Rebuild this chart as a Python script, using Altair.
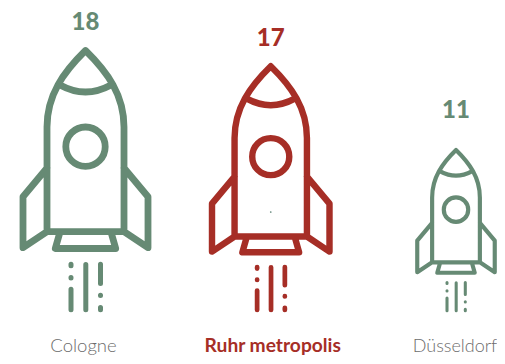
import altair as alt
import pandas as pd

cities = ["Cologne", "Ruhr metropolis", "Düsseldorf"]
values = [18, 17, 11]

GREEN = "#668a74"
RED = "#a62e26"
GREY = "#6c6c6c"


def P(x, y):
    """Icon point: px of the largest rocket, relative to its centre / bottom."""
    return f"{x / 100:.4f} {(y - 312.3) / 100:.4f}"


def circle(cy, r):
    k = r * 0.5523
    return (
        f"M{P(-r, cy)}C{P(-r, cy - k)} {P(-k, cy - r)} {P(0, cy - r)}"
        f"C{P(k, cy - r)} {P(r, cy - k)} {P(r, cy)}"
        f"C{P(r, cy + k)} {P(k, cy + r)} {P(0, cy + r)}"
        f"C{P(-k, cy + r)} {P(-r, cy + k)} {P(-r, cy)}Z"
    )


ROCKET = (
    f"M{P(-38.5, 231.7)}L{P(-38.5, 127)}"
    f"C{P(-38.5, 95)} {P(-22, 72)} {P(0, 50.5)}"
    f"C{P(22, 72)} {P(38.5, 95)} {P(38.5, 127)}"
    f"L{P(38.5, 231.7)}Z"
    f"M{P(-25.5, 85)}Q{P(0, 99)} {P(25.5, 85)}"
    + circle(146.7, 19.7)
    + f"M{P(-38.5, 168)}L{P(-62.5, 196.7)}L{P(-62.5, 247.7)}L{P(-38.5, 231.7)}"
    f"M{P(38.5, 168)}L{P(62.5, 196.7)}L{P(62.5, 247.7)}L{P(38.5, 231.7)}"
    f"M{P(-25.5, 232)}L{P(-30.2, 248.5)}L{P(30.2, 248.5)}L{P(25.5, 232)}"
)

EXHAUST = (
    f"M{P(-14.5, 264.2)}L{P(-14.5, 265.8)}"
    f"M{P(-14.5, 277.6)}L{P(-14.5, 277.9)}"
    f"M{P(-14.5, 289.2)}L{P(-14.5, 309.8)}"
    f"M{P(0.3, 264.5)}L{P(0.3, 309.8)}"
    f"M{P(15, 264.2)}L{P(15, 283.5)}"
    f"M{P(15, 295.2)}L{P(15, 295.5)}"
    f"M{P(15, 307.5)}L{P(15, 309.8)}"
)

df = pd.DataFrame({"city": cities, "value": values})

x = alt.X(
    "city:N",
    sort=cities,
    title=None,
    axis=None,
    scale=alt.Scale(type="point", domain=cities, range=[77.5, 448], padding=0),
)
color = alt.Color(
    "city:N", legend=None, scale=alt.Scale(domain=cities, range=[GREEN, RED, GREEN])
)
size = alt.Size(
    "value:Q",
    legend=None,
    scale=alt.Scale(type="pow", exponent=1, domain=[11, 17, 18], range=[15376, 35344, 40000]),
)


def sw(top):
    return alt.StrokeWidth(
        "value:Q", legend=None, scale=alt.Scale(domain=[0, 18], range=[0, top])
    )


BASE = alt.value(304.3)

body = (
    alt.Chart(df)
    .mark_point(shape=ROCKET, filled=False, opacity=1, strokeJoin="round", strokeCap="round")
    .encode(x=x, y=BASE, color=color, size=size, strokeWidth=sw(6.8))
)
flame = (
    alt.Chart(df)
    .mark_point(shape=EXHAUST, filled=False, opacity=1, strokeCap="round", strokeJoin="round")
    .encode(x=x, y=BASE, color=color, size=size, strokeWidth=sw(5))
)
labels = (
    alt.Chart(df)
    .mark_text(font="Lato", fontWeight=900, fontSize=24, baseline="middle")
    .encode(
        x=x,
        y=alt.Y(
            "value:Q",
            axis=None,
            title=None,
            scale=alt.Scale(domain=[11, 17, 18], range=[103, 31, 15]),
        ),
        color=color,
        text="value:Q",
    )
)
name_a = (
    alt.Chart(df[df.city == "Cologne"])
    .mark_text(font="Lato", fontWeight=300, fontSize=18.5, baseline="alphabetic", color=GREY, dx=-2)
    .encode(x=x, y=alt.value(344), text="city:N")
)
name_c = (
    alt.Chart(df[df.city == "Düsseldorf"])
    .mark_text(font="Lato", fontWeight=300, fontSize=18, baseline="alphabetic", color=GREY, dx=-1)
    .encode(x=x, y=alt.value(344), text="city:N")
)
name_b = (
    alt.Chart(df[df.city == "Ruhr metropolis"])
    .mark_text(font="Lato", fontWeight="bold", fontSize=19.2, baseline="alphabetic", color=RED, dx=2)
    .encode(x=x, y=alt.value(344), text="city:N")
)
speck = (
    alt.Chart(df[df.city == "Ruhr metropolis"])
    .mark_point(filled=True, size=3, color="#5f8577", opacity=1)
    .encode(x=x, y=alt.value(204))
)

chart = (
    alt.layer(body, flame, labels, name_a, name_b, name_c, speck)
    .resolve_scale(strokeWidth="independent")
    .properties(
        width=489,
        height=348,
        padding=0,
        autosize=alt.AutoSizeParams(type="none"),
    )
    .configure_view(stroke=None)
)

chart.save("out.html", embed_options={"renderer": "svg", "actions": False})
